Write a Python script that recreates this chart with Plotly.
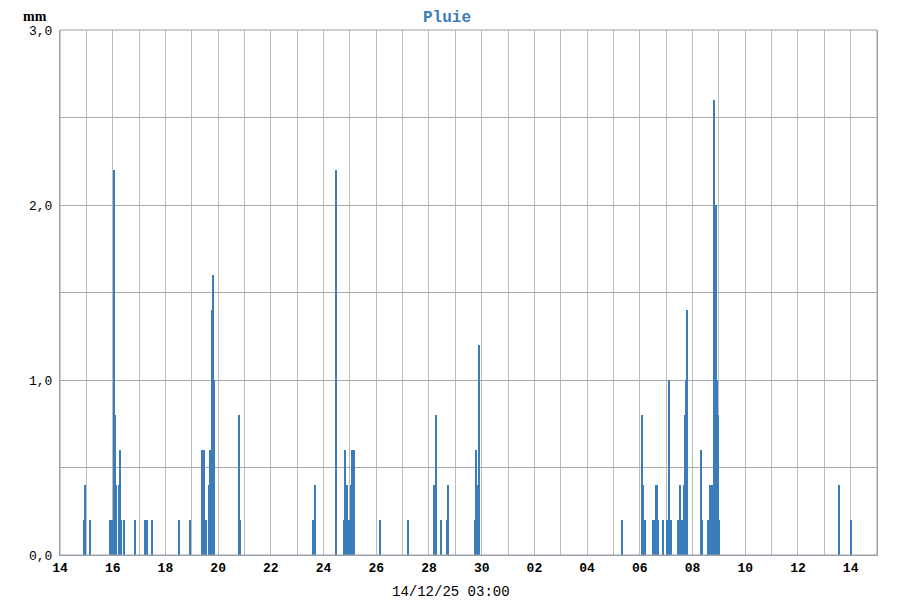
import plotly.graph_objects as go

times = [
    "2025-11-14 22:00", "2025-11-14 23:00", "2025-11-15 03:00", "2025-11-15 22:00",
    "2025-11-15 23:00", "2025-11-16 00:00", "2025-11-16 01:00", "2025-11-16 02:00",
    "2025-11-16 03:00", "2025-11-16 06:00", "2025-11-16 07:00", "2025-11-16 08:00",
    "2025-11-16 10:00", "2025-11-16 20:00", "2025-11-17 05:00", "2025-11-17 07:00",
    "2025-11-17 12:00", "2025-11-18 12:00", "2025-11-18 22:00", "2025-11-19 09:00",
    "2025-11-19 11:00", "2025-11-19 12:00", "2025-11-19 13:00", "2025-11-19 16:00",
    "2025-11-19 17:00", "2025-11-19 18:00", "2025-11-19 19:00", "2025-11-19 20:00",
    "2025-11-20 19:00", "2025-11-20 20:00", "2025-11-23 14:00", "2025-11-23 16:00",
    "2025-11-24 11:00", "2025-11-24 19:00", "2025-11-24 20:00", "2025-11-24 21:00",
    "2025-11-24 22:00", "2025-11-24 23:00", "2025-11-25 00:00", "2025-11-25 01:00",
    "2025-11-25 02:00", "2025-11-25 03:00", "2025-11-25 04:00", "2025-11-26 03:00",
    "2025-11-27 05:00", "2025-11-28 05:00", "2025-11-28 06:00", "2025-11-28 11:00",
    "2025-11-28 16:00", "2025-11-28 17:00", "2025-11-29 18:00", "2025-11-29 19:00",
    "2025-11-29 20:00", "2025-11-29 21:00", "2025-11-29 22:00", "2025-12-05 08:00",
    "2025-12-06 02:00", "2025-12-06 03:00", "2025-12-06 05:00", "2025-12-06 12:00",
    "2025-12-06 13:00", "2025-12-06 15:00", "2025-12-06 16:00", "2025-12-06 17:00",
    "2025-12-06 21:00", "2025-12-07 01:00", "2025-12-07 03:00", "2025-12-07 04:00",
    "2025-12-07 11:00", "2025-12-07 13:00", "2025-12-07 14:00", "2025-12-07 15:00",
    "2025-12-07 16:00", "2025-12-07 17:00", "2025-12-07 18:00", "2025-12-07 19:00",
    "2025-12-08 08:00", "2025-12-08 09:00", "2025-12-08 14:00", "2025-12-08 15:00",
    "2025-12-08 16:00", "2025-12-08 17:00", "2025-12-08 18:00", "2025-12-08 20:00",
    "2025-12-08 21:00", "2025-12-08 22:00", "2025-12-08 23:00", "2025-12-09 00:00",
    "2025-12-13 13:00", "2025-12-14 00:00",
]
rain_mm = [
    0.2, 0.4, 0.2, 0.2,
    0.2, 0.2, 2.2, 0.8,
    0.4, 0.4, 0.6, 0.2,
    0.2, 0.2, 0.2, 0.2,
    0.2, 0.2, 0.2, 0.6,
    0.6, 0.2, 0.2, 0.4,
    0.6, 1.4, 1.6, 1.0,
    0.8, 0.2, 0.2, 0.4,
    2.2, 0.2, 0.6, 0.4,
    0.2, 0.2, 0.2, 0.4,
    0.6, 0.4, 0.6, 0.2,
    0.2, 0.4, 0.8, 0.2,
    0.2, 0.4, 0.2, 0.6,
    0.2, 0.4, 1.2, 0.2,
    0.8, 0.4, 0.2, 0.2,
    0.2, 0.4, 0.4, 0.2,
    0.2, 0.2, 1.0, 0.2,
    0.2, 0.4, 0.2, 0.2,
    0.4, 0.8, 1.0, 1.4,
    0.6, 0.2, 0.2, 0.2,
    0.4, 0.2, 0.4, 2.6,
    2.0, 1.0, 0.8, 0.2,
    0.4, 0.2,
]

y_tickvals = [0, 0.5, 1.0, 1.5, 2.0, 2.5, 3.0]
y_ticktext = ["0,0", "", "1,0", "", "2,0", "", "3,0"]
x_range = ["2025-11-14 00:00", "2025-12-15 00:00"]
title_text = "Pluie"
unit_text = "mm"
footer_text = "14/12/25 03:00"

BAR = "#3b7cbb"
GRID = "#bcbcbc"
MONO = "Liberation Mono, Courier New, monospace"

fig = go.Figure()
fig.add_trace(go.Bar(
    x=times, y=rain_mm, width=3600000 * 0.95,
    marker=dict(color=BAR, line=dict(width=0)),
))

fig.update_layout(
    width=892, height=592,
    margin=dict(l=52, r=23, t=22, b=45, autoexpand=False),
    paper_bgcolor="white", plot_bgcolor="white",
    showlegend=False, bargap=0,
    font=dict(family=MONO, size=13, color="black"),
)
fig.update_xaxes(
    type="date", range=x_range, automargin=False,
    dtick=2 * 86400000, tick0="2025-11-14", tickformat="%d",
    tickfont=dict(family=MONO, size=13, color="black", weight="bold"),
    showgrid=True, gridcolor=GRID, gridwidth=1,
    minor=dict(dtick=86400000, showgrid=True, gridcolor=GRID, gridwidth=1),
    showline=True, linecolor="#8aa4c0", linewidth=1, mirror=False,
    ticks="", zeroline=False, ticklabelstandoff=0,
)
fig.update_yaxes(
    range=[0, 3.0], tickvals=y_tickvals, ticktext=y_ticktext, automargin=False,
    tickfont=dict(family=MONO, size=13, color="black"),
    showgrid=True, gridcolor="#aaaaaa", gridwidth=1,
    showline=True, linecolor="#a0a0a0", linewidth=1, mirror=True,
    ticks="", zeroline=False, ticklabelstandoff=4,
)
fig.add_shape(type="rect", xref="paper", yref="paper", x0=0, y0=0, x1=1, y1=1,
              line=dict(color="#a0a0a0", width=1), layer="above")

fig.add_annotation(text=title_text, xref="paper", yref="paper", x=0.474, y=1.0,
                   yshift=22, xanchor="center", yanchor="top", showarrow=False,
                   borderpad=0,
                   font=dict(family=MONO, size=16, color=BAR, weight="bold"))
fig.add_annotation(text=unit_text, xref="paper", yref="paper", x=0, xshift=-25, y=1.0,
                   yshift=22, xanchor="center", yanchor="top", showarrow=False,
                   borderpad=0,
                   font=dict(family="Liberation Serif, serif", size=14, color="black", weight="bold"))
fig.add_annotation(text=footer_text, xref="paper", yref="paper", x=0.478, y=0,
                   yshift=-37, xanchor="center", yanchor="middle", showarrow=False,
                   font=dict(family=MONO, size=14, color="black"))

fig.write_html("out.html")
